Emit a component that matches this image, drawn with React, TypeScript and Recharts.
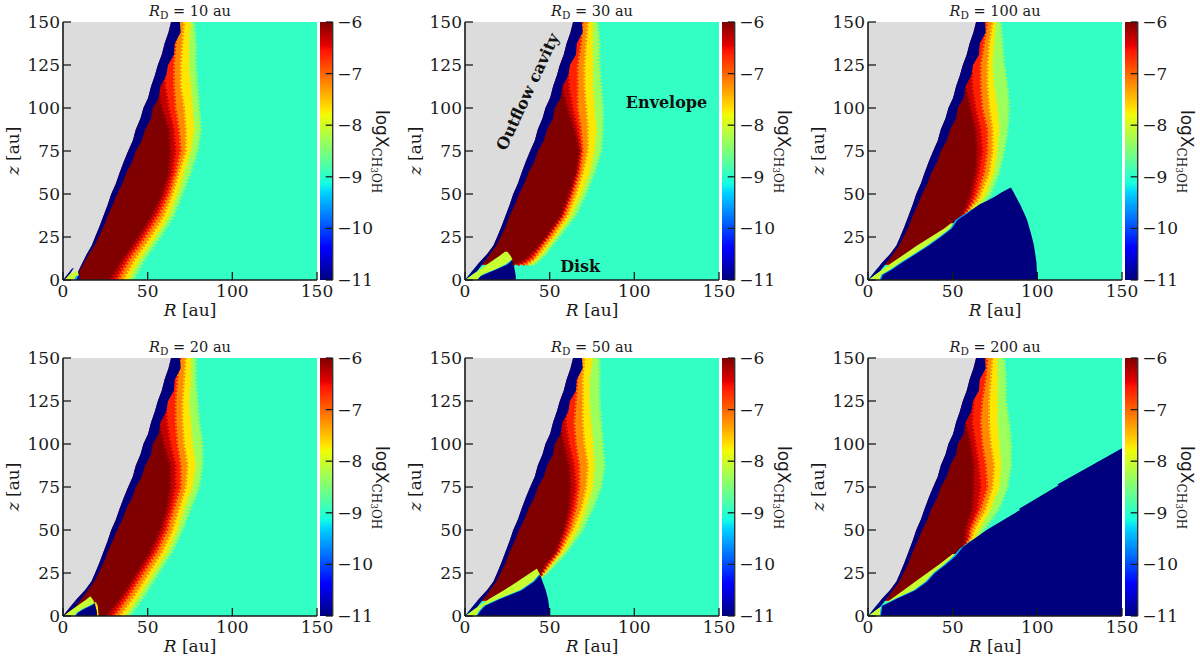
import { Area, ComposedChart, ReferenceDot, XAxis, YAxis } from "recharts";

const AQUA = "#33ffc4";
const GRAY = "#dcdcdc";
const NAVY = "#00007f";
const LIME = "#c8ff30";
const CYAN = "#00b0ff";
const INK = "#1a1a1a";
const SERIF = "'DejaVu Serif', serif";

// contour colours, outermost first
const contourColors = ["#9cff5c", "#ffe600", "#ff8a00", "#ff2000", "#c40000", "#800000"];

const jetOffsets = [0, 0.11, 0.125, 0.34, 0.375, 0.5, 0.64, 0.66, 0.89, 0.91, 1];
const jetColors = ["#00007f", "#0000f1", "#0000ff", "#00d4ff", "#16ffe1", "#7cff79", "#f1fc06", "#ffe600", "#ff1300", "#e40000", "#800000"];

const rTicks = [0, 50, 100, 150];
const zTicks = [0, 25, 50, 75, 100, 125, 150];
const barTicks = [-11, -10, -9, -8, -7, -6];
const barEnds = [0, 1];
const barTop = [-6, -6];

// outflow cavity edge and the navy wall next to it
const cavityZ = [0, 5, 10, 15, 20, 25, 31, 37.5, 44, 50, 56, 62.5, 69, 75, 81, 87.5, 94, 100, 106, 112.5, 119, 125, 131, 137.5, 144, 150];
const cavityEdge = [0, 4, 8.3, 13, 16.8, 19, 21.5, 24, 26.5, 28.5, 31.2, 33.5, 36, 38.5, 41.2, 43, 45.8, 47.5, 50.3, 52, 54.3, 56, 58.3, 60, 62.3, 63.8];
const wallEdge = [0, 7, 11, 14.7, 18.5, 21, 24, 26.5, 29.5, 32, 35, 37.5, 41, 43, 46.5, 48.5, 52, 53, 56.5, 57.5, 61, 62, 65.5, 66, 69.5, 69];
const cavityEdge10 = [9.5, 9, 11.5, 14, 17, 19, 21.5, 24, 26.5, 28.5, 31.2, 33.5, 36, 38.5, 41.2, 43, 45.8, 47.5, 50.3, 52, 54.3, 56, 58.3, 60, 62.3, 63.8];
const wallEdge10 = [10, 9.6, 12.5, 15.3, 18.7, 21, 24, 26.5, 29.5, 32, 35, 37.5, 41, 43, 46.5, 48.5, 52, 53, 56.5, 57.5, 61, 62, 65.5, 66, 69.5, 69];

const fullZ = [0, 12.5, 25, 37.5, 50, 62.5, 75, 87.5, 100, 112.5, 125, 137.5, 150];
const zeroLeft = [0];

// RD = 10
const contours10 = [
  [41, 48, 57, 65, 70, 75, 79, 81, 80, 79, 78, 78, 77],
  [38, 45, 54, 62, 67, 71, 75, 77, 76, 75, 74, 74, 75],
  [35, 42, 51, 59, 64, 68, 72, 72, 71, 69, 69, 70, 71],
  [32, 39, 48, 56, 62, 66, 69, 68, 66, 65, 65, 66, 68],
  [30, 37, 46, 54, 60, 64, 66, 65, 62, 60, 59, 58, 58],
  [27, 35, 44, 52, 58, 62, 63, 62, 58, 55, 53, 52, 52],
];
const strip10Z = [0, 3, 6.8];
const strip10Left = [0, 2.4, 5.5];
const strip10Right = [1.5, 3.8, 6.3];
const wedge10Z = [0, 1.5, 3, 5.3];
const wedge10Left = [0.8, 2.2, 3.6, 7.8];
const wedge10Right = [7, 7.8, 9.2, 8.5];
const edge10Z = [0, 2.5];
const edge10Left = [6.5, 7.8];
const edge10Right = [10, 9.5];
const disk10Z = [0, 2.3];
const disk10Left = [8, 8.8];
const disk10Right = [10, 9.6];

// RD = 20
const contours20 = [
  [39, 48, 56, 64, 70, 75, 80, 82, 82, 80, 79, 78, 78],
  [36, 45, 53, 61, 67, 71, 76, 78, 76, 75, 74, 75, 75],
  [33, 42, 50, 58, 64, 68, 72, 73, 71, 70, 70, 71, 72],
  [30, 39, 47, 55, 61, 65, 69, 69, 67, 66, 66, 67, 69],
  [28, 37, 45, 53, 59, 63, 66, 66, 63, 61, 60, 60, 60],
  [25, 35, 43, 51, 57, 61, 63, 63, 59, 56, 54, 52, 52],
];
const wedge20Z = [0, 2, 4, 6, 7.5, 9, 11.4];
const wedge20Left = [0.5, 3, 5.8, 8.5, 10.8, 13, 16];
const wedge20Right = [7, 9, 12.5, 16.5, 18.5, 18, 16.3];
const edge20Z = [0, 2, 4, 6, 7.2];
const edge20Left = [6.8, 8.2, 11.5, 15.5, 18.2];
const edge20Right = [8, 10, 13.5, 17.5, 19.2];
const disk20Z = [0, 2, 4, 6, 7.2];
const disk20Left = [7.5, 9, 12.5, 16.5, 19];
const disk20Right = [20, 20, 19.6, 19.1, 18.9];
const rim20Z = [0, 3, 6, 8];
const rim20Left = [20, 19.8, 19, 18.5];
const rim20Right = [21, 20.8, 20.5, 19.5];

// RD = 30
const z30 = [9, 11, 13, 16, 20, 25, 37.5, 50, 62.5, 75, 87.5, 100, 112.5, 125, 137.5, 150];
const contours30 = [
  [40, 43, 45, 48, 51, 55, 65, 71, 76, 80, 81, 81, 80, 79, 79, 78],
  [38, 41, 43, 46, 49, 53, 62, 68, 73, 76, 77, 76, 75, 75, 75, 75],
  [36, 39, 41, 44, 47, 51, 60, 65, 69, 72, 72, 71, 70, 70, 71, 72],
  [34, 37, 40, 42, 45, 49, 58, 63, 67, 69, 68, 66, 66, 66, 68, 69],
  [31, 35, 38, 41, 44, 48, 57, 62, 66, 68, 66, 63, 61, 60, 60, 60],
  [28, 33, 36, 39, 43, 47, 56, 61, 65, 67, 64, 60, 57, 55, 53, 52],
];
const wedge30Z = [0, 3, 6, 9, 12, 14, 16.4];
const wedge30Left = [0.5, 4.3, 8.7, 13, 17.4, 20.3, 23.6];
const wedge30Right = [7.5, 11, 18.5, 25, 28, 27, 25];
const edge30Z = [0, 3, 6, 9, 11.5];
const edge30Left = [6.8, 10, 17.5, 24, 27.2];
const edge30Right = [9, 12, 19.5, 26, 28];
const disk30Z = [0, 2, 4, 7, 9, 11, 11.5];
const disk30Left = [7.5, 9, 13.5, 20.5, 25, 27.3, 27.7];
const disk30Right = [30, 30, 29.7, 29.2, 28.6, 27.9, 27.7];

// RD = 50
const z50 = [9, 15, 20, 23, 25, 30, 37.5, 50, 62.5, 75, 87.5, 100, 112.5, 125, 137.5, 150];
const contours50 = [
  [14.5, 25, 34, 45, 48, 53, 60, 69, 75, 80, 82, 81, 80, 79, 79, 79],
  [14.5, 25, 34, 44.5, 47, 51, 58, 66, 71, 75, 76, 75, 74, 73, 73, 75],
  [14.5, 25, 34, 44, 46, 50, 56, 63, 68, 71, 72, 70, 69, 69, 69, 70],
  [14.5, 25, 34, 44, 45.5, 49, 55, 61, 65, 67, 67, 65, 64, 65, 66, 68],
  [14.5, 25, 34, 44, 45, 48, 54, 59, 63, 65, 64, 61, 59, 60, 60, 60],
  [14.5, 25, 34, 44, 44.5, 47, 53, 58, 61, 62, 61, 58, 55, 54, 52, 52],
];
const wedge50Z = [0, 3, 6, 10, 15, 20, 24, 27.4];
const wedge50Left = [0.5, 4.3, 8.5, 14.5, 23, 31, 37, 42.3];
const wedge50Right = [7.2, 9.2, 12, 21, 33.5, 41, 44.3, 42.5];
const edge50Z = [0, 3, 6, 10, 15, 20, 24];
const edge50Left = [6.5, 8.4, 11, 20, 32.5, 40, 43.6];
const edge50Right = [8, 10, 13, 22, 34.5, 42, 44.5];
const disk50Z = [0, 3, 6, 10, 15, 20, 24];
const disk50Left = [7.2, 9.2, 12, 21, 33.5, 41, 44.3];
const disk50Right = [50, 49.9, 49.6, 49, 47.7, 45.8, 44.3];

// RD = 100
const z100 = [9, 15, 20, 25, 30, 35, 37.5, 40, 43, 46, 50, 62.5, 75, 87.5, 100, 112.5, 125, 137.5, 150];
const contours100 = [
  [15, 24, 32, 40, 47, 54, 57, 61, 65, 69, 72, 77, 80, 82, 83, 82, 80, 79, 78],
  [15, 24, 32, 40, 47, 54, 57, 60, 63, 66, 69, 74, 76, 77, 76, 74, 73, 74, 75],
  [15, 24, 32, 40, 47, 54, 56.5, 59, 61, 64, 66, 71, 73, 73, 71, 70, 70, 71, 73],
  [15, 24, 32, 40, 47, 53.5, 56, 58, 60, 62, 64, 68, 70, 70, 67, 66, 66, 68, 70],
  [15, 24, 32, 40, 47, 53.5, 55.5, 57, 59, 60.5, 62, 65, 67, 66, 63, 61, 61, 62, 62],
  [15, 24, 32, 40, 47, 53, 55, 56, 57.5, 58.5, 60, 63, 64, 63, 60, 57, 55, 53, 52],
];
const wedge100Z = [0, 3, 6, 10, 15, 20, 25, 30, 33];
const wedge100Left = [0.5, 4.2, 8.4, 14, 21.5, 29, 37, 45, 49];
const wedge100Right = [7.3, 8.5, 14, 20, 28, 36, 43, 49, 51];
const edge100Z = [0, 3, 6, 10, 15, 20, 25, 30, 35, 39, 41];
const edge100Left = [6.8, 7.8, 13, 19, 27, 35, 42, 48.5, 51.8, 58, 61];
const edge100Right = [9, 10, 15, 21, 29, 37, 44, 50.5, 54, 60, 62];
const disk100Z = [0, 3, 6, 10, 15, 20, 25, 30, 35, 39, 41, 44, 46, 48.6, 51, 53.7];
const disk100Left = [7.5, 8.8, 14, 20, 28, 36, 43, 49.5, 53, 59, 61.5, 66, 70, 75, 79, 84];
const disk100Right = [100, 99.9, 99.7, 99.5, 98.8, 98, 96.8, 95.4, 93.9, 92.2, 91.2, 89.8, 88.7, 87.3, 86, 84.5];

// RD = 200
const z200 = [9, 15, 20, 25, 30, 35, 38, 40, 43, 46, 50, 62.5, 75, 87.5, 100, 112.5, 125, 137.5, 150];
const contours200 = [
  [14, 24, 31, 38, 45, 51, 56, 59, 61, 65, 68, 77, 82, 84, 84, 83, 81, 81, 80],
  [14, 24, 31, 38, 45, 51, 56, 58, 60, 63, 65, 72, 77, 78, 77, 76, 76, 76, 76],
  [14, 24, 31, 38, 45, 51, 56, 57, 59, 61, 62, 69, 73, 74, 72, 71, 71, 72, 73],
  [14, 24, 31, 38, 45, 51, 55.5, 56.5, 58, 59.5, 60, 66, 70, 69, 67, 66, 67, 69, 70],
  [14, 24, 31, 38, 45, 51, 55, 56, 57.5, 58.5, 59, 64, 66, 65, 63, 61, 62, 62, 62],
  [14, 24, 31, 38, 45, 51, 55, 55.5, 56.5, 57, 57, 61, 62, 62, 60, 57, 55, 53, 52],
];
const wedge200Z = [0, 3, 6, 10, 15, 20, 25, 30, 33, 36];
const wedge200Left = [0.5, 4.2, 8.3, 14, 21, 28, 35, 42, 46, 50];
const wedge200Right = [7.6, 8.1, 8.6, 17, 28, 35, 39.6, 46, 49.5, 52];
const edge200Z = [0, 3, 6, 10, 15, 20, 25, 30, 33, 36, 39, 42, 44];
const edge200Left = [6.9, 7.3, 7.8, 16, 27, 34, 38.6, 45, 48.5, 51.5, 54, 58.2, 61];
const edge200Right = [8.5, 9, 10, 18, 28.5, 36, 40.5, 47, 50.5, 53.5, 56, 60, 62];
const disk200Z = [0, 3, 6, 8, 10, 15, 20, 25, 30, 35, 40, 44, 50, 61.8, 62.2, 76, 76.4, 97.5];
const disk200Left = [7.6, 8, 8.5, 13, 17, 28, 35, 39.5, 46, 52, 56, 61.5, 70, 90, 89, 112.6, 111.8, 150];
const disk200Right = [150, 150, 150, 150, 150, 150, 150, 150, 150, 150, 150, 150, 150, 150, 150, 150, 150, 150];

const backgroundZ = [0, 150];
const backgroundRight = [150, 150];

type Layer = { fill: string; rough?: boolean; data: { z: number; range: number[] }[] };

const layer = (fill: string, z: number[], left: number[], right: number[]): Layer => ({
  fill,
  data: z.map((v, i) => ({ z: v, range: [left[i] ?? left[0], right[i]] })),
});

// dashed own-colour stroke roughens the contour edge like the pixelated map
const contourLayers = (z: number[], contours: number[][]) =>
  contours.map((c, i) => ({ ...layer(contourColors[i], z, zeroLeft, c), rough: true }));

const cavityLayers = (edge: number[], wall: number[]) => [
  layer(GRAY, cavityZ, zeroLeft, edge),
  layer(NAVY, cavityZ, edge, wall),
];

const panels = [
  {
    title: "10",
    col: 0,
    row: 0,
    layers: [
      ...contourLayers(fullZ, contours10),
      ...cavityLayers(cavityEdge10, wallEdge10),
      layer(NAVY, strip10Z, strip10Left, strip10Right),
      layer(LIME, wedge10Z, wedge10Left, wedge10Right),
      layer(CYAN, edge10Z, edge10Left, edge10Right),
      layer(NAVY, disk10Z, disk10Left, disk10Right),
    ],
  },
  {
    title: "30",
    col: 1,
    row: 0,
    notes: true,
    layers: [
      ...contourLayers(z30, contours30),
      ...cavityLayers(cavityEdge, wallEdge),
      layer(LIME, wedge30Z, wedge30Left, wedge30Right),
      layer(CYAN, edge30Z, edge30Left, edge30Right),
      layer(NAVY, disk30Z, disk30Left, disk30Right),
    ],
  },
  {
    title: "100",
    col: 2,
    row: 0,
    layers: [
      ...contourLayers(z100, contours100),
      ...cavityLayers(cavityEdge, wallEdge),
      layer(LIME, wedge100Z, wedge100Left, wedge100Right),
      layer(CYAN, edge100Z, edge100Left, edge100Right),
      layer(NAVY, disk100Z, disk100Left, disk100Right),
    ],
  },
  {
    title: "20",
    col: 0,
    row: 1,
    layers: [
      ...contourLayers(fullZ, contours20),
      ...cavityLayers(cavityEdge, wallEdge),
      layer("#ffe600", rim20Z, rim20Left, rim20Right),
      layer(LIME, wedge20Z, wedge20Left, wedge20Right),
      layer(CYAN, edge20Z, edge20Left, edge20Right),
      layer(NAVY, disk20Z, disk20Left, disk20Right),
    ],
  },
  {
    title: "50",
    col: 1,
    row: 1,
    layers: [
      ...contourLayers(z50, contours50),
      ...cavityLayers(cavityEdge, wallEdge),
      layer(LIME, wedge50Z, wedge50Left, wedge50Right),
      layer(CYAN, edge50Z, edge50Left, edge50Right),
      layer(NAVY, disk50Z, disk50Left, disk50Right),
    ],
  },
  {
    title: "200",
    col: 2,
    row: 1,
    layers: [
      ...contourLayers(z200, contours200),
      ...cavityLayers(cavityEdge, wallEdge),
      layer(LIME, wedge200Z, wedge200Left, wedge200Right),
      layer(CYAN, edge200Z, edge200Left, edge200Right),
      layer(NAVY, disk200Z, disk200Left, disk200Right),
    ],
  },
];

const colLeft = [0, 402, 805];
const rowTop = [0, 336];
const frame = { stroke: INK, strokeWidth: 1.6 };
const barFrame = { stroke: "#333", strokeWidth: 1.4 };

function BottomTick({ x, y, payload }: any) {
  return (
    <g>
      <line x1={x} x2={x} y1={y} y2={y - 8} stroke={INK} strokeWidth={1.3} />
      <text x={x} y={y + 17} textAnchor="middle" fontFamily={SERIF} fontSize={17} fill={INK}>
        {payload.value}
      </text>
    </g>
  );
}

function LeftTick({ x, y, payload }: any) {
  return (
    <g>
      <line x1={x} x2={x + 8} y1={y} y2={y} stroke={INK} strokeWidth={1.3} />
      <text x={x - 3} y={y + 6} textAnchor="end" fontFamily={SERIF} fontSize={17} fill={INK}>
        {payload.value}
      </text>
    </g>
  );
}

function BarTick({ x, y, payload }: any) {
  return (
    <g>
      <line x1={x - 7} x2={x} y1={y} y2={y} stroke={INK} strokeWidth={1.3} />
      <text x={x + 4.5} y={y + 6} textAnchor="start" fontFamily={SERIF} fontSize={17} fill={INK}>
        {`\u2212${Math.abs(payload.value)}`}
      </text>
    </g>
  );
}

function Note({ text, angle = 0 }: { text: string; angle?: number }) {
  return (props: any) => {
    const { x, y } = props.viewBox;
    return (
      <text
        transform={`translate(${x},${y}) rotate(${angle})`}
        textAnchor="middle"
        dominantBaseline="central"
        fontFamily={SERIF}
        fontWeight="bold"
        fontSize={16}
        fill="#111"
      >
        {text}
      </text>
    );
  };
}

function Panel({ panel }: { panel: (typeof panels)[number] }) {
  return (
    <div style={{ position: "absolute", left: colLeft[panel.col], top: rowTop[panel.row], width: 395, height: 330 }}>
      <ComposedChart
        width={395}
        height={330}
        layout="vertical"
        margin={{ top: 22, right: 78, bottom: 0, left: 0 }}
      >
        <XAxis
          type="number"
          domain={[0, 150]}
          ticks={rTicks}
          interval={0}
          height={50}
          allowDataOverflow
          tickSize={0}
          tickMargin={0}
          tickLine={false}
          axisLine={frame}
          tick={BottomTick}
        />
        <XAxis
          xAxisId="top"
          orientation="top"
          type="number"
          domain={[0, 150]}
          height={0}
          tick={false}
          tickLine={false}
          axisLine={frame}
        />
        <YAxis
          type="number"
          dataKey="z"
          domain={[0, 150]}
          ticks={zTicks}
          interval={0}
          width={63}
          reversed
          allowDataOverflow
          tickSize={0}
          tickMargin={0}
          tickLine={false}
          axisLine={frame}
          tick={LeftTick}
        />
        <YAxis
          yAxisId="right"
          orientation="right"
          type="number"
          dataKey="z"
          domain={[0, 150]}
          width={0}
          reversed
          tick={false}
          tickLine={false}
          axisLine={frame}
        />
        <Area
          data={layer(AQUA, backgroundZ, zeroLeft, backgroundRight).data}
          dataKey="range"
          type="linear"
          stroke="none"
          fill={AQUA}
          fillOpacity={1}
          dot={false}
          activeDot={false}
          isAnimationActive={false}
        />
        {panel.layers.map((l, i) => (
          <Area
            key={i}
            data={l.data}
            dataKey="range"
            type="linear"
            stroke={l.rough ? l.fill : "none"}
            strokeWidth={l.rough ? 3.5 : 0}
            strokeDasharray={l.rough ? "2 1.6" : undefined}
            fill={l.fill}
            fillOpacity={1}
            dot={false}
            activeDot={false}
            isAnimationActive={false}
          />
        ))}
        {panel.notes && <ReferenceDot x={37} y={109.5} r={0} fill="none" stroke="none" label={Note({ text: "Outflow cavity", angle: -65 })} />}
        {panel.notes && <ReferenceDot x={119} y={103} r={0} fill="none" stroke="none" label={Note({ text: "Envelope" })} />}
        {panel.notes && <ReferenceDot x={68} y={7.7} r={0} fill="none" stroke="none" label={Note({ text: "Disk" })} />}
        <text x={190} y={16} textAnchor="middle" fontFamily={SERIF} fontSize={14.5} fill={INK}>
          <tspan fontStyle="italic">R</tspan>
          <tspan fontSize={10.5} dy={3}>D</tspan>
          <tspan dy={-3}>{` = ${panel.title} au`}</tspan>
        </text>
        <text x={190} y={316} textAnchor="middle" fontFamily={SERIF} fontSize={17} fill={INK}>
          <tspan fontStyle="italic">R</tspan> [au]
        </text>
        <text
          transform="translate(19,151) rotate(-90)"
          textAnchor="middle"
          fontFamily={SERIF}
          fontSize={17}
          fill={INK}
        >
          <tspan fontStyle="italic">z</tspan> [au]
        </text>
      </ComposedChart>
      <div style={{ position: "absolute", left: 318, top: 0 }}>
        <ColorBar id={`jet-${panel.title}`} />
      </div>
    </div>
  );
}

function ColorBar({ id }: { id: string }) {
  const data = barEnds.map((x, i) => ({ x, level: barTop[i] }));
  return (
    <ComposedChart
      width={77}
      height={330}
      data={data}
      margin={{ top: 22, right: 0, bottom: 50, left: 2 }}
    >
      <defs>
        <linearGradient id={id} x1="0" y1="1" x2="0" y2="0">
          {jetOffsets.map((o, i) => (
            <stop key={o} offset={o} stopColor={jetColors[i]} />
          ))}
        </linearGradient>
      </defs>
      <XAxis dataKey="x" type="number" domain={[0, 1]} height={0} tick={false} tickLine={false} axisLine={barFrame} />
      <XAxis xAxisId="top" orientation="top" type="number" domain={[0, 1]} height={0} tick={false} tickLine={false} axisLine={barFrame} />
      <YAxis yAxisId="left" type="number" domain={[-11, -6]} width={0} tick={false} tickLine={false} axisLine={barFrame} />
      <YAxis
        orientation="right"
        type="number"
        domain={[-11, -6]}
        ticks={barTicks}
        interval={0}
        width={62.3}
        tickSize={0}
        tickMargin={0}
        tickLine={false}
        axisLine={barFrame}
        tick={BarTick}
      />
      <Area
        dataKey="level"
        type="linear"
        baseValue={-11}
        stroke="none"
        fill={`url(#${id})`}
        fillOpacity={1}
        dot={false}
        activeDot={false}
        isAnimationActive={false}
      />
      <text transform="translate(58,110) rotate(90)" fill={INK}>
        <tspan fontFamily="'DejaVu Sans', sans-serif" fontSize={17}>logX</tspan>
        <tspan fontFamily={SERIF} fontSize={12} dy={4}>CH</tspan>
        <tspan fontFamily={SERIF} fontSize={9} dy={1.5}>3</tspan>
        <tspan fontFamily={SERIF} fontSize={12} dy={-1.5}>OH</tspan>
      </text>
    </ComposedChart>
  );
}

export default function App() {
  return (
    <div style={{ position: "absolute", left: 0, top: 0, width: 1200, height: 662, overflow: "hidden", background: "#fff" }}>
      {panels.map((p) => (
        <Panel key={p.title} panel={p} />
      ))}
    </div>
  );
}
